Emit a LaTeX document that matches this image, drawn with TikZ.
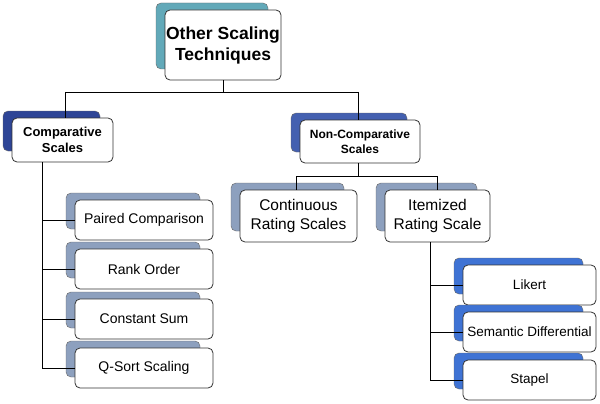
\documentclass[tikz,border=0pt]{standalone}
\usepackage{fontspec}
\setmainfont{Liberation Sans}
\begin{document}
\begin{tikzpicture}[x=1pt,y=-1pt,
  front/.style={draw=black!80,fill=white,rounded corners=5pt,line width=0.8pt,align=center,inner sep=0pt},
  conn/.style={line width=0.8pt}]
\useasboundingbox (0,0) rectangle (600,404);
\definecolor{teal}{HTML}{62A9B9}
\definecolor{dblue}{HTML}{2E4596}
\definecolor{mblue}{HTML}{4460B0}
\definecolor{gblue}{HTML}{8DA0BE}
\definecolor{lblue}{HTML}{3F73D4}
\newcommand{\bx}[8]{% name, x1,y1,x2,y2, backcolor, font, text
  \fill[#6,draw=black!60,rounded corners=5pt] (#2-9,#3-7) rectangle (#4-13,#5-11);
  \node[front,minimum width={#4-#2},minimum height={#5-#3},font=#7] (#1) at ({(#2+#4)/2},{(#3+#5)/2}) {#8};}
\bx{top}{165}{10}{281}{80}{teal}{\bfseries\fontsize{17.5}{21}\selectfont}{Other Scaling\\Techniques}
\bx{comp}{12}{118}{113}{162}{dblue}{\bfseries\fontsize{13}{16}\selectfont}{Comparative\\Scales}
\bx{ncomp}{300}{120}{420}{163}{mblue}{\bfseries\fontsize{12}{15}\selectfont}{Non-Comparative\\Scales}
\bx{cont}{240}{190}{357}{242}{gblue}{\fontsize{15.5}{19}\selectfont}{Continuous\\Rating Scales}
\bx{item}{385}{190}{490}{242}{gblue}{\fontsize{15.5}{19}\selectfont}{Itemized\\Rating Scale}
\bx{pair}{75}{200}{213}{240}{gblue}{\fontsize{14}{17}\selectfont}{Paired Comparison}
\bx{rank}{75}{249}{213}{289}{gblue}{\fontsize{14}{17}\selectfont}{Rank Order}
\bx{const}{75}{299}{213}{339}{gblue}{\fontsize{14}{17}\selectfont}{Constant Sum}
\bx{qsort}{75}{348}{213}{388}{gblue}{\fontsize{14}{17}\selectfont}{Q-Sort Scaling}
\bx{likert}{463}{265}{596}{305}{lblue}{\fontsize{13.5}{17}\selectfont}{Likert}
\bx{sem}{463}{312}{596}{352}{lblue}{\fontsize{13.5}{17}\selectfont}{Semantic Differential}
\bx{stapel}{463}{360}{596}{400}{lblue}{\fontsize{13.5}{17}\selectfont}{Stapel}
\draw[conn] (top.south) -- (top.south |- 0,92);
\draw[conn] (65,92) -- (358,92);
\draw[conn] (65,92) -- (comp.north -| 65,0);
\draw[conn] (358,92) -- (ncomp.north -| 358,0);
\coordinate (cl) at (42,368);
\draw[conn] (comp.south -| cl) -- (cl);
\foreach \n in {pair,rank,const,qsort} \draw[conn] (\n.west) -- (\n.west -| cl);
\draw[conn] (ncomp.south -| 358,0) -- (358,176);
\draw[conn] (296,176) -- (437,176);
\draw[conn] (296,176) -- (cont.north -| 296,0);
\draw[conn] (437,176) -- (item.north -| 437,0);
\coordinate (il) at (430,380);
\draw[conn] (item.south -| il) -- (il);
\foreach \n in {likert,sem,stapel} \draw[conn] (\n.west) -- (\n.west -| il);
\end{tikzpicture}
\end{document}
